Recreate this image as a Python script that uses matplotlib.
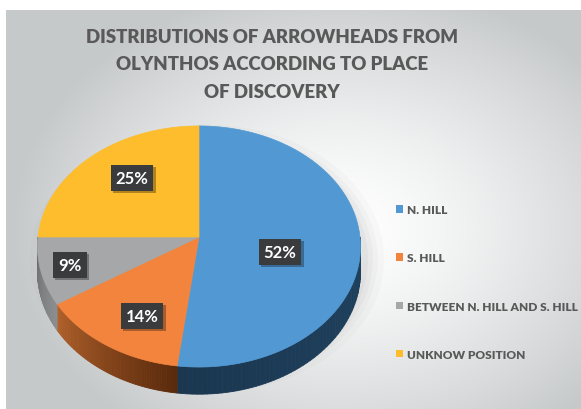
import numpy as np
import matplotlib.pyplot as plt
import matplotlib.patheffects as pe
from matplotlib.patches import Polygon, Patch, Ellipse
from matplotlib.colors import to_rgb

# Data
labels = ['N. HILL', 'S. HILL', 'BETWEEN N. HILL AND S. HILL', 'UNKNOW POSITION']
shares = [52, 14, 9, 25]
colors = ['#5299d3', '#f3843e', '#a5a7a8', '#fdbd2d']
side_colors = [('#1f4260', '#1b3750'), ('#b0602a', '#5a2a0c'),
               ('#8c8e90', '#6c6e70'), ('#b08020', '#b08020')]
title = 'DISTRIBUTIONS OF ARROWHEADS FROM\nOLYNTHOS ACCORDING TO PLACE\nOF DISCOVERY'

W, H = 581, 410
fig = plt.figure(figsize=(W / 100, H / 100), dpi=100)
ax = fig.add_axes([0, 0, 1, 1])
ax.set_xlim(0, W)
ax.set_ylim(H, 0)
ax.axis('off')

# Background: white margin + radial gray gradient
yy, xx = np.mgrid[0:H, 0:W]
d = np.sqrt(((xx - 340) / 330.0) ** 2 + ((yy - 230) / 250.0) ** 2)
d = np.clip(d, 0, 1) ** 1.4
edge = np.array([198, 201, 202]) / 255.0
img = 1 - d[..., None] * (1 - edge)
img[:11, :, :] = 1
img[:, :6, :] = 1
ax.imshow(img, extent=(0, W, H, 0), zorder=0, interpolation='bilinear')

# 3D pie geometry (pixel coords), simple perspective of a tilted disk
cx, cy = 199, 238
a, b, k = 161, 119.8, 0.0788
depth = 25


def pt(t_deg, dz=0.0):
    t = np.radians(t_deg)
    X, Z = np.cos(t), -np.sin(t)   # Z > 0 : front of the disk
    s = 1.0 / (1.0 - k * Z)
    return cx + a * X * s, cy + b * Z * s + dz * s


# soft shadow under the pie
for r, al in [(1.10, 0.03), (1.06, 0.04), (1.03, 0.05), (1.0, 0.06)]:
    ax.add_patch(Ellipse((cx + 8, cy + 22), 2 * a * r, 2 * 122 * r,
                         facecolor='#707070', edgecolor='none', alpha=al, zorder=1))

# wedge angles, start at top, clockwise
fracs = np.array(shares) / sum(shares)
starts = 90 - 360 * np.concatenate([[0], np.cumsum(fracs)[:-1]])
ends = 90 - 360 * np.cumsum(fracs)

# side walls (front half only)
for i in range(len(shares)):
    t1, t2 = starts[i], ends[i]
    lo, hi = max(t2, -180), min(t1, 0)
    if lo >= hi:
        continue
    c_hi, c_lo = np.array(to_rgb(side_colors[i][0])), np.array(to_rgb(side_colors[i][1]))
    ts = np.linspace(hi, lo, 60)
    for j in range(len(ts) - 1):
        f = j / (len(ts) - 2)
        col = c_lo * (1 - f) + c_hi * f if i == 1 else c_hi * (1 - f) + c_lo * f
        p1, p2 = pt(ts[j]), pt(ts[j + 1])
        q1, q2 = pt(ts[j], depth), pt(ts[j + 1], depth)
        ax.add_patch(Polygon([p1, p2, q2, q1], closed=True, facecolor=col,
                             edgecolor=col, linewidth=0.6, zorder=2))

# top faces
for i in range(len(shares)):
    ts = np.linspace(starts[i], ends[i], 200)
    verts = [(cx, cy)] + [pt(t) for t in ts]
    ax.add_patch(Polygon(verts, closed=True, facecolor=colors[i],
                         edgecolor=colors[i], linewidth=0.5, zorder=3))

# data labels (dark boxes with a small drop shadow)
label_pos = [(280, 253), (142, 317), (70, 266), (132, 179)]
for i, (x, y) in enumerate(label_pos):
    t = ax.text(x, y, f'{shares[i]}%', ha='center', va='center', fontsize=12,
                fontweight='bold', family='Lato', color='white', zorder=5,
                bbox=dict(boxstyle='square,pad=0.3', facecolor='#3a3b3d',
                          edgecolor='none'))
    t.get_bbox_patch().set_path_effects(
        [pe.withSimplePatchShadow(offset=(1.5, -1.5), shadow_rgbFace='black', alpha=0.3)])

# title
ax.text(272, 65, title, ha='center', va='center', fontsize=13.4,
        fontweight='heavy', family='Lato', color='#595959',
        linespacing=1.75, zorder=5)

# legend
handles = [Patch(facecolor=c, edgecolor='none') for c in colors]
leg = ax.legend(handles, labels, loc='center left',
                bbox_to_anchor=(396, 283), bbox_transform=ax.transData,
                frameon=False, labelspacing=3.1, handlelength=0.6,
                handleheight=0.6, handletextpad=0.35, borderpad=0,
                borderaxespad=0,
                prop=dict(family='Lato', weight='heavy', size=8.6))
for t in leg.get_texts():
    t.set_color('#595959')

fig.savefig('out.png', dpi=100)
